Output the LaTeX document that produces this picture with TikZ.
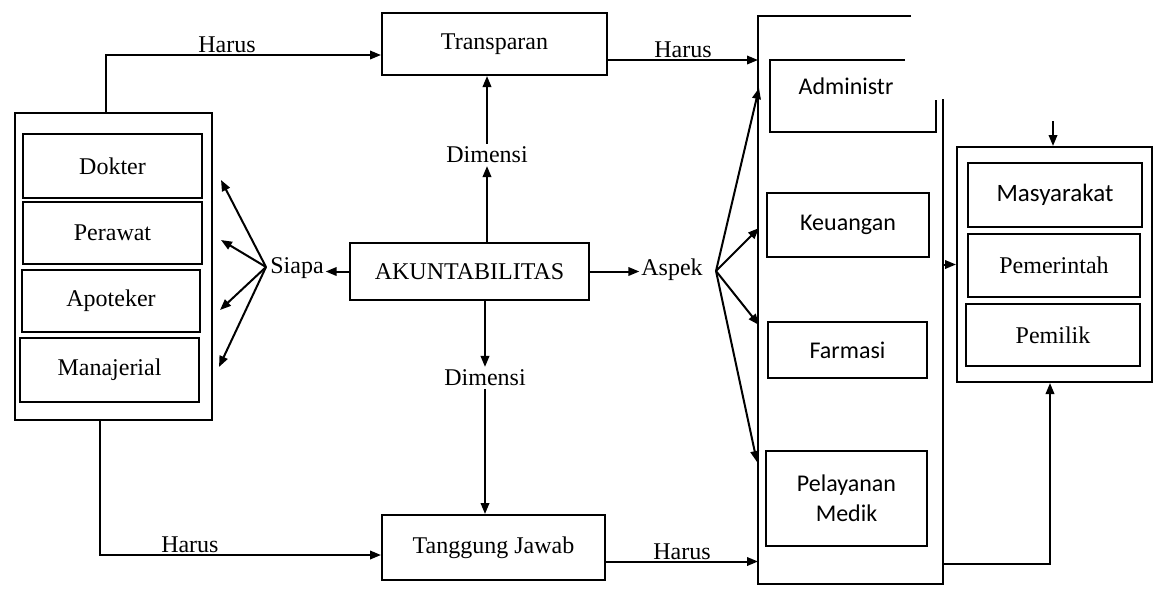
\documentclass[tikz,border=0pt]{standalone}
\usepackage{fontspec}
\setmainfont{Liberation Serif}
\newfontfamily\calfont{Carlito}
\usetikzlibrary{arrows.meta,positioning}
\begin{document}
\begin{tikzpicture}[x=1pt,y=-1pt,
  line width=2pt,
  base/.style={font=\fontsize{24}{28}\selectfont},
  box/.style={draw,rectangle,inner sep=0pt,base},
  sfont/.style={font=\calfont\fontsize{24}{28}\selectfont},
  sbox/.style={draw,rectangle,inner sep=0pt,sfont},
  lbl/.style={base,inner sep=2pt},
  arr/.style={-{Triangle[length=11pt,width=8.5pt]}}]
\useasboundingbox (0,0) rectangle (1153,598);
% left group
\node[box,minimum width=197,minimum height=307] (L) at (113.5,266.5) {};
\node[box,minimum width=179,minimum height=64] (dok) at (112.5,166) {Dokter};
\node[box,minimum width=179,minimum height=62] (per) at (112.5,233) {Perawat};
\node[box,minimum width=178,minimum height=62] (apo) at (111,301) {Apoteker};
\node[box,minimum width=179,minimum height=64] (man) at (109.5,370) {Manajerial};
% centre
\node[box,minimum width=225,minimum height=62] (T) at (494.5,44) {Transparan};
\node[box,minimum width=239,minimum height=57] (K) at (469.5,271.5) {AKUNTABILITAS};
\node[box,minimum width=223,minimum height=65] (TJ) at (493.5,547.5) {Tanggung Jawab};
\node[lbl] (D1) at (487,155) {Dimensi};
\node[lbl] (D2) at (485,378) {Dimensi};
\node[lbl,inner sep=1pt] (S) at (297,268) {Siapa};
\node[lbl,inner sep=1pt] (As) at (672,270) {Aspek};
% aspect container
\node[minimum width=183,minimum height=566,inner sep=0pt] (A) at (850.5,300) {};
\draw ([xshift=-32pt]A.north east) -- (A.north west) -- (A.south west) -- (A.south east) -- ([yshift=-83pt]A.north east);
\coordinate (adm) at (770,60);
\draw (905,60) -- (adm) -- (770,132) -- (936,132) -- (936,100);
\node[sfont,inner sep=0pt] (admt) at (846,86) {Administr};
\node[sbox,minimum width=162,minimum height=64] (keu) at (848,225) {Keuangan};
\node[sbox,minimum width=159,minimum height=56] (far) at (847.5,350) {Farmasi};
\node[sbox,minimum width=161,minimum height=95,align=center] (pel) at (846.5,498.5) {Pelayanan\\[2pt]Medik};
% right group
\node[box,minimum width=195,minimum height=235] (R) at (1054.5,264.5) {};
\node[sbox,minimum width=174,minimum height=64,font=\calfont\fontsize{25}{29}\selectfont] (mas) at (1055,195) {Masyarakat};
\node[box,minimum width=172,minimum height=63] (pem) at (1054,265.5) {Pemerintah};
\node[box,minimum width=174,minimum height=62] (pmk) at (1053,335) {Pemilik};
% connectors
\draw[arr] ([xshift=-7.5pt]L.north) |- node[lbl,above,pos=0.72,inner sep=1pt]{Harus} ([yshift=-11pt]T.west);
\draw[arr] ([xshift=-13.5pt]L.south) |- node[lbl,above,pos=0.66,inner sep=1pt]{Harus} ([yshift=-7.5pt]TJ.west);
\draw[arr] ([yshift=-16pt]T.east) -- node[lbl,above,inner sep=1pt]{Harus} ([yshift=-16pt]T.east -| A.west);
\draw[arr] ([yshift=-14pt]TJ.east) -- node[lbl,above,inner sep=1pt]{Harus} ([yshift=-14pt]TJ.east -| A.west);
\draw[arr] (D1.south |- K.north) -- (D1.south);
\draw[arr] (D1.north) -- (D1.north |- T.south);
\draw[arr] (D2.north |- K.south) -- (D2.north);
\draw[arr] (D2.south) -- (D2.south |- TJ.north);
\draw[arr] (K.west) -- (K.west -| S.east);
\draw[arr] (K.east) -- (K.east -| As.west);
\coordinate (s0) at (266,267);
\coordinate (sa1) at (221,180);
\coordinate (sa2) at (221,240);
\coordinate (sa3) at (220,310);
\coordinate (sa4) at (219,367);
\foreach \c in {sa1,sa2,sa3,sa4} \draw[arr] (s0) -- (\c);
\coordinate (a0) at (716,271);
\coordinate (aa1) at (759,88);
\coordinate (aa2) at (759,228);
\coordinate (aa3) at (759,325);
\coordinate (aa4) at (757,462);
\foreach \c in {aa1,aa2,aa3,aa4} \draw[arr] (a0) -- (\c);
\draw[arr] (A.east |- R.west) -- (R.west);
\coordinate (rt) at (1053,121);
\draw[arr] (rt) -- (R.north -| rt);
\draw[arr] ([yshift=20pt]A.south east) -| ([xshift=-4.5pt]R.south);
\end{tikzpicture}
\end{document}
